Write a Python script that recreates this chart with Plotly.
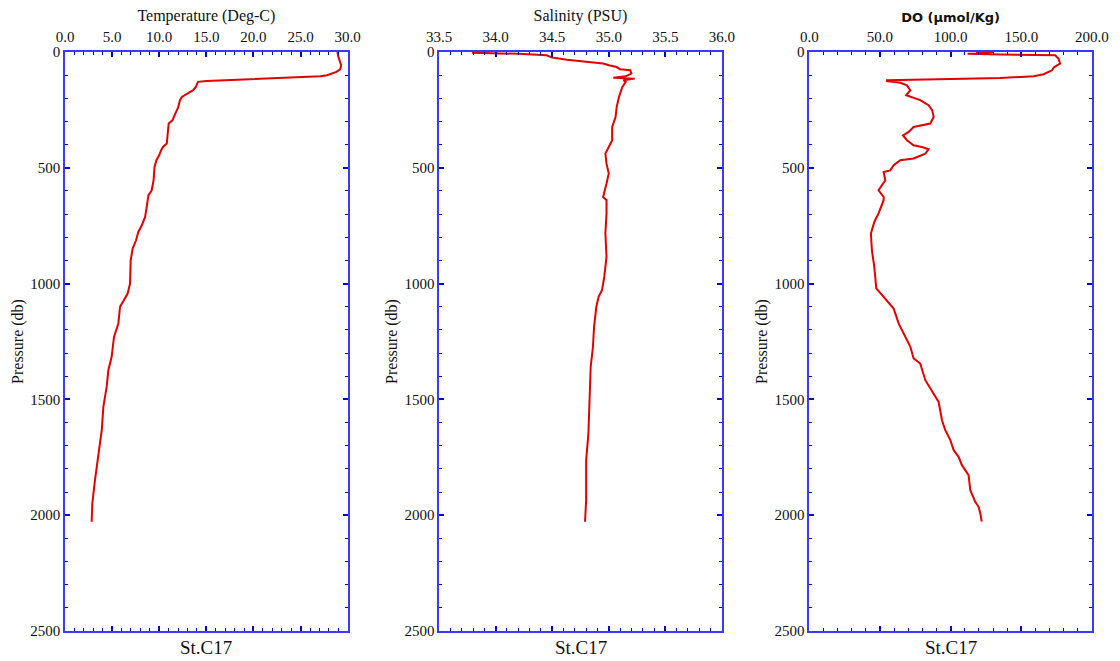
import plotly.graph_objects as go

# ---------------- data ----------------
pres_temp = [0, 20, 57, 75, 86, 100, 105, 111, 118, 125, 129, 150, 165, 182, 194, 208, 240, 266, 295, 309,
             350, 395, 410, 424, 445, 467, 496, 554, 597, 619, 669, 712, 748, 777, 813, 849, 899, 1000,
             1043, 1079, 1100, 1172, 1230, 1316, 1374, 1446, 1532, 1633, 1733, 1849, 1949, 2028]
temperature = [28.9, 29.0, 29.3, 29.2, 28.8, 27.8, 27.1, 23.2, 17.9, 15.0, 14.1, 13.9, 13.6, 12.9, 12.4, 12.2,
               12.0, 11.7, 11.4, 11.0, 10.9, 10.8, 10.4, 10.2, 10.0, 9.7, 9.5, 9.4, 9.2, 8.85, 8.67, 8.5,
               8.15, 7.78, 7.54, 7.18, 6.97, 6.9, 6.65, 6.19, 5.84, 5.66, 5.2, 4.95, 4.6, 4.42, 4.07, 3.9,
               3.54, 3.18, 2.9, 2.83]

pres_sal = [3, 5, 8, 14, 24, 33, 43, 50, 58, 65, 75, 79, 93, 105, 111, 115, 122, 129, 151, 194, 237, 281,
            324, 381, 410, 439, 482, 525, 568, 626, 640, 697, 784, 885, 971, 1028, 1057, 1100, 1187, 1273,
            1360, 1503, 1647, 1762, 1935, 2028]
salinity = [33.79, 34.1, 34.2, 34.45, 34.5, 34.63, 34.8, 34.95, 35.01, 35.07, 35.10, 35.19, 35.20, 35.15,
            35.04, 35.23, 35.13, 35.15, 35.12, 35.09, 35.07, 35.06, 35.03, 35.03, 35.00, 34.97, 34.98,
            35.00, 34.98, 34.95, 34.98, 34.98, 34.97, 34.98, 34.96, 34.94, 34.91, 34.89, 34.87, 34.86,
            34.84, 34.83, 34.82, 34.80, 34.80, 34.79]

pres_do = [0, 3, 6, 8, 11, 14, 29, 50, 65, 79, 86, 96, 105, 112, 116, 119, 121, 122, 126, 129, 133, 144,
           165, 187, 194, 208, 230, 252, 281, 309, 324, 345, 360, 381, 403, 410, 420, 439, 460, 467, 489,
           511, 518, 554, 597, 626, 640, 697, 734, 784, 856, 928, 1021, 1050, 1086, 1108, 1172, 1230, 1273,
           1323, 1345, 1417, 1474, 1511, 1590, 1633, 1676, 1719, 1748, 1784, 1827, 1892, 1942, 1964, 1993,
           2021, 2028]
dissolved_oxygen = [130, 118, 125, 112, 135, 174, 176.4, 177.4, 173.3, 171.7, 169.3, 165.8, 158.7, 135.1,
                    109.2, 80, 60, 55, 55, 60, 64.4, 69.1, 71.5, 68.6, 72, 78.5, 84.4, 87, 88, 85.6, 73.8,
                    70.3, 66.3, 69.1, 73.8, 79.7, 84.4, 82.1, 73.8, 64.4, 59.7, 57.3, 52.6, 53.8, 49, 52.6,
                    52.6, 49, 46, 43.6, 44.3, 46, 47.4, 51.4, 56.1, 59.7, 63.2, 67.9, 71.5, 73.8, 78.5,
                    82.1, 88, 91.5, 93.9, 96.2, 99.8, 102.1, 105.6, 108, 112.7, 113.9, 117.4, 119.8, 121,
                    122.2, 122]

station = "St.C17"
x_titles = ["Temperature (Deg-C)", "Salinity (PSU)", "DO (μmol/Kg)"]
x_ranges = [[0, 30], [33.5, 36.0], [0, 200]]
x_dticks = [5, 0.5, 50]
x_minor = [1, 0.1, 10]
y_title = "Pressure (db)"

# ---------------- figure ----------------
SERIF = "Liberation Serif, Times New Roman, serif"
AXIS_BLUE = "#3a3aff"
TICK_BLUE = "#0000cc"
RED = "#e00000"
TXT = "#111111"

fig = go.Figure()
series = [(temperature, pres_temp), (salinity, pres_sal), (dissolved_oxygen, pres_do)]
for i, (xv, yv) in enumerate(series):
    sfx = "" if i == 0 else str(i + 1)
    fig.add_trace(go.Scatter(x=xv, y=yv, mode="lines", line=dict(color=RED, width=2),
                             xaxis="x" + sfx, yaxis="y" + sfx, showlegend=False))

domains = [[0.0, 0.2753], [0.3643, 0.6396], [0.7247, 1.0]]
layout = dict(
    width=1120, height=661,
    margin=dict(l=65, r=28, t=52, b=30),
    paper_bgcolor="white", plot_bgcolor="white",
    font=dict(family=SERIF, size=15, color=TXT),
    showlegend=False,
)
for i in range(3):
    sfx = "" if i == 0 else str(i + 1)
    title_font = dict(family=SERIF, size=16, color=TXT)
    if i == 2:
        title_font = dict(family="DejaVu Sans, Arial, sans-serif", size=13, color=TXT, weight="bold")
    layout["xaxis" + sfx] = dict(
        domain=domains[i], anchor="y" + sfx, side="top",
        range=x_ranges[i], dtick=x_dticks[i], tick0=x_ranges[i][0], tickformat=".1f",
        ticks="inside", ticklen=5, tickwidth=1.5, tickcolor=TICK_BLUE,
        minor=dict(ticks="inside", dtick=x_minor[i], ticklen=3, tickwidth=1, tickcolor=TICK_BLUE),
        showline=True, linecolor=AXIS_BLUE, linewidth=1.5, mirror="ticks",
        showgrid=False, zeroline=False,
        tickfont=dict(family=SERIF, size=15, color=TXT),
        ticklabelstandoff=2,
        title=dict(text=x_titles[i], font=title_font, standoff=4),
        automargin=False,
    )
    layout["yaxis" + sfx] = dict(
        domain=[0, 1], anchor="x" + sfx,
        range=[2500, 0], dtick=500, tick0=0,
        ticks="inside", ticklen=5, tickwidth=1.5, tickcolor=TICK_BLUE,
        minor=dict(ticks="inside", dtick=100, ticklen=3, tickwidth=1, tickcolor=TICK_BLUE),
        showline=True, linecolor=AXIS_BLUE, linewidth=1.5, mirror="ticks",
        showgrid=False, zeroline=False,
        tickfont=dict(family=SERIF, size=15, color=TXT),
        ticklabelstandoff=0,
        title=dict(text=y_title, font=dict(family=SERIF, size=16, color=TXT), standoff=3),
        automargin=False,
    )
fig.update_layout(**layout)

for i in range(3):
    fig.add_annotation(text=station, xref="paper", yref="paper",
                       x=(domains[i][0] + domains[i][1]) / 2, y=-0.029,
                       xanchor="center", yanchor="middle", showarrow=False,
                       font=dict(family=SERIF, size=19, color=TXT))

fig.write_html("out.html")
